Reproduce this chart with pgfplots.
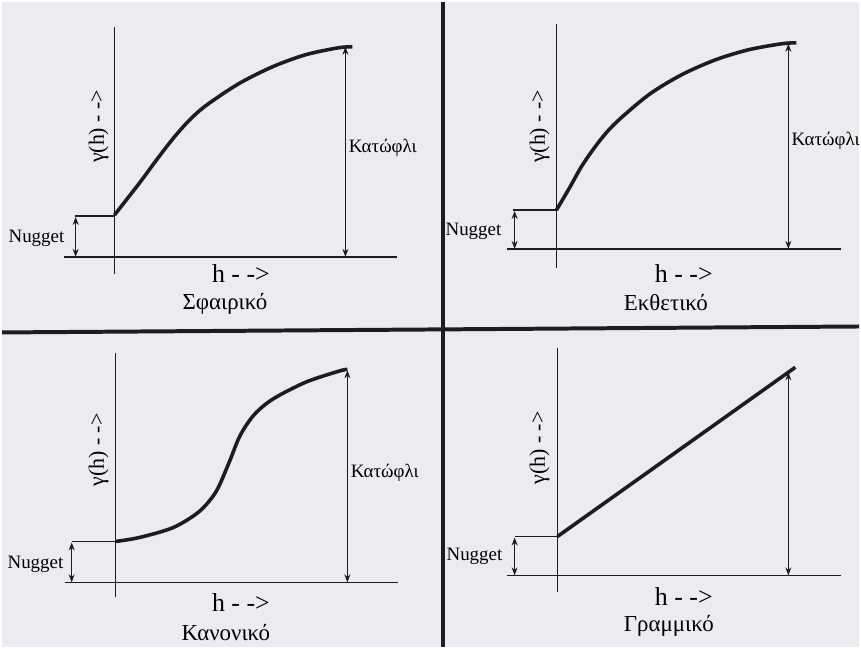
\documentclass[border=0pt]{standalone}
\usepackage{pgfplots}
\pgfplotsset{compat=1.18}
\usepackage{fontspec}
\setmainfont{Liberation Serif}
\usetikzlibrary{arrows.meta}
\definecolor{paper}{RGB}{236,236,240}
\definecolor{ink}{RGB}{28,28,34}
\tikzset{
  lbl/.style={inner sep=0pt, font=\fontsize{9.5}{10}\selectfont},
  ylbl/.style={rotate=90, font=\fontsize{11}{12}\selectfont},
  hlbl/.style={font=\fontsize{13}{14}\selectfont},
  ttl/.style={font=\fontsize{11.5}{13}\selectfont},
}
\pgfplotsset{
  ax/.style={line width=0.8pt},
  dim/.style={line width=0.6pt, {Stealth[length=4pt,width=3pt]}-{Stealth[length=4pt,width=3pt]}},
  crv/.style={line width=1.8pt, smooth, tension=0.5},
}
\begin{document}
\begin{tikzpicture}
\begin{axis}[
  x=0.5pt, y=0.5pt, y dir=reverse,
  xmin=0, xmax=861, ymin=0, ymax=648,
  hide axis, clip=false,
  every axis plot/.append style={ink},
]
% paper
\addplot[fill=paper, draw=none] coordinates {(0,0) (861,0) (861,648) (0,648)} -- cycle;
% dividers
\addplot[line width=2pt] coordinates {(443,0) (443,648)};
\addplot[line width=2pt] coordinates {(0,332) (861,326)};

% ---------- Spherical (top left)
\addplot[ax] coordinates {(113,25) (113,273)};
\addplot[ax] coordinates {(62,256) (397,256)};
\addplot[ax] coordinates {(73,215) (113,215)};
\addplot[dim] coordinates {(74,216) (74,256)};
\addplot[dim] coordinates {(345,45) (345,256)};
\addplot[crv] coordinates {(113,214) (138,182) (155,159) (172,137) (188,119) (205,104) (238,82) (272,65) (305,53) (338,46) (352,45)};
\node[lbl, anchor=east] at (axis cs:63,237) {Nugget};
\node[lbl, anchor=west] at (axis cs:348,147) {Κατώφλι};
\node[ylbl] at (axis cs:97,125) {γ(h) - ->};
\node[hlbl] at (axis cs:240,273) {h - ->};
\node[ttl] at (axis cs:224,303) {Σφαιρικό};

% ---------- Exponential (top right)
\addplot[ax] coordinates {(557,22) (557,267)};
\addplot[ax] coordinates {(507,248) (843,248)};
\addplot[ax] coordinates {(513,209) (557,209)};
\addplot[dim] coordinates {(515,210) (515,248)};
\addplot[dim] coordinates {(790,42) (790,248)};
\addplot[crv] coordinates {(557,209) (570,187) (583,164) (600,140) (617,121) (650,93) (683,73) (717,58) (750,48) (783,42) (798,41)};
\node[lbl, anchor=east] at (axis cs:502,230) {Nugget};
\node[lbl, anchor=west] at (axis cs:793,140) {Κατώφλι};
\node[ylbl] at (axis cs:540,125) {γ(h) - ->};
\node[hlbl] at (axis cs:685,273) {h - ->};
\node[ttl] at (axis cs:667,302) {Εκθετικό};

% ---------- Gaussian (bottom left)
\addplot[ax] coordinates {(114,353) (114,598)};
\addplot[ax] coordinates {(63,583) (398,583)};
\addplot[ax] coordinates {(70,542) (114,542)};
\addplot[dim] coordinates {(70,543) (70,583)};
\addplot[dim] coordinates {(347,370) (347,583)};
\addplot[crv] coordinates {(114,542) (138,538) (172,528) (198,512) (215,492) (228,463) (239,436) (253,415) (272,399) (305,382) (338,371) (347,369)};
\node[lbl, anchor=east] at (axis cs:62,565) {Nugget};
\node[lbl, anchor=west] at (axis cs:350,473) {Κατώφλι};
\node[ylbl] at (axis cs:97,450) {γ(h) - ->};
\node[hlbl] at (axis cs:240,603) {h - ->};
\node[ttl] at (axis cs:225,633) {Κανονικό};

% ---------- Linear (bottom right)
\addplot[ax] coordinates {(558,348) (558,593)};
\addplot[ax] coordinates {(507,576) (843,576)};
\addplot[ax] coordinates {(515,537) (558,537)};
\addplot[dim] coordinates {(515,538) (515,576)};
\addplot[dim] coordinates {(790,372) (790,576)};
\addplot[line width=1.8pt] coordinates {(558,537) (797,367)};
\node[lbl, anchor=east] at (axis cs:503,557) {Nugget};
\node[ylbl] at (axis cs:540,448) {γ(h) - ->};
\node[hlbl] at (axis cs:685,597) {h - ->};
\node[ttl] at (axis cs:670,627) {Γραμμικό};
\end{axis}
\end{tikzpicture}
\end{document}
